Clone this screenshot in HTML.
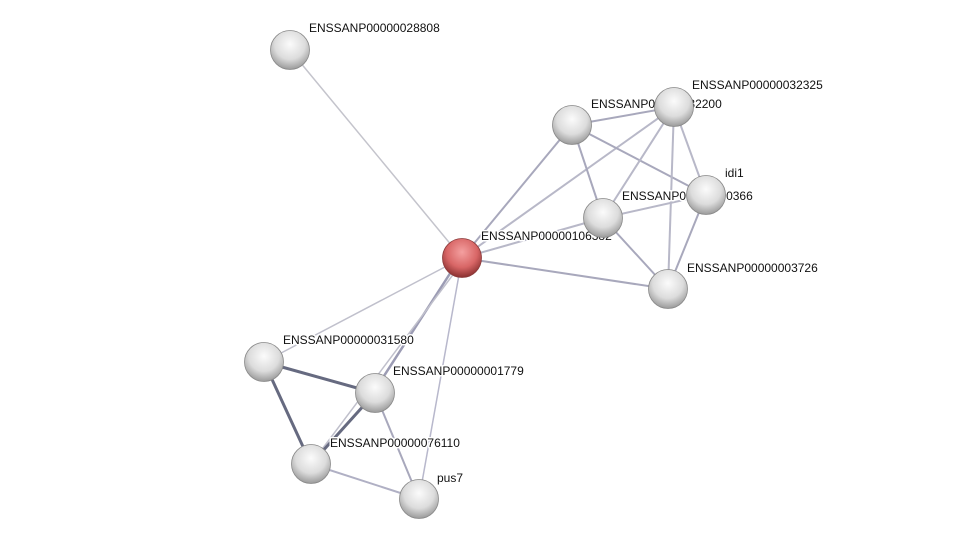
<!DOCTYPE html>
<html><head><style>body{margin:0;background:#fff}svg{display:block}</style></head><body>
<svg width="975" height="545" viewBox="0 0 975 545" xmlns="http://www.w3.org/2000/svg">
<defs>
<radialGradient id="g" cx="50%" cy="35%" r="65%">
<stop offset="0" stop-color="#fbfbfb"/><stop offset="0.6" stop-color="#dcdcdc"/><stop offset="1" stop-color="#9a9a9a"/></radialGradient>
<radialGradient id="r" cx="50%" cy="35%" r="65%">
<stop offset="0" stop-color="#f4a0a0"/><stop offset="0.6" stop-color="#d86666"/><stop offset="1" stop-color="#8a3030"/></radialGradient>
</defs>
<g stroke="#b8b8c8" stroke-width="2" fill="none">
<line x1="462" y1="258" x2="290" y2="50" stroke="#c4c4cc" stroke-width="1.5"/>
<line x1="462" y1="258" x2="572" y2="125" stroke="#a8a8bc"/>
<line x1="462" y1="258" x2="674" y2="107"/>
<line x1="462" y1="258" x2="603" y2="218"/>
<line x1="462" y1="258" x2="668" y2="289" stroke="#a8a8bc"/>
<line x1="462" y1="258" x2="264" y2="362" stroke="#c0c0cc" stroke-width="1.5"/>
<line x1="460" y1="258" x2="373" y2="393" stroke="#9c9cb4" stroke-width="2.5"/>
<line x1="464" y1="260" x2="311" y2="464" stroke="#c0c0cc" stroke-width="1.5"/>
<line x1="462" y1="258" x2="419" y2="499" stroke="#b8b8cc" stroke-width="1.5"/>
<line x1="572" y1="125" x2="674" y2="107" stroke="#a8a8bc"/>
<line x1="572" y1="125" x2="603" y2="218" stroke="#a8a8bc"/>
<line x1="572" y1="125" x2="706" y2="195" stroke="#a8a8bc"/>
<line x1="674" y1="107" x2="603" y2="218"/>
<line x1="674" y1="107" x2="706" y2="195"/>
<line x1="674" y1="107" x2="668" y2="289"/>
<line x1="603" y1="218" x2="706" y2="195"/>
<line x1="603" y1="218" x2="668" y2="289" stroke="#a8a8bc"/>
<line x1="706" y1="195" x2="668" y2="289" stroke="#a8a8bc"/>
<line x1="264" y1="362" x2="375" y2="393" stroke="#666a80" stroke-width="3"/>
<line x1="264" y1="362" x2="311" y2="464" stroke="#666a80" stroke-width="3"/>
<line x1="375" y1="393" x2="311" y2="464" stroke="#666a80" stroke-width="3"/>
<line x1="375" y1="393" x2="419" y2="499" stroke="#a8a8bc"/>
<line x1="311" y1="464" x2="419" y2="499" stroke="#b0b0c4"/>
</g>
<g font-family="Liberation Sans, sans-serif" font-size="12" fill="#111" stroke="#fff" stroke-width="3" paint-order="stroke" stroke-linejoin="round">
<text x="309" y="32">ENSSANP00000028808</text>
<text x="692" y="89">ENSSANP00000032325</text>
<text x="591" y="108">ENSSANP00000032200</text>
<text x="725" y="177">idi1</text>
<text x="622" y="200">ENSSANP00000000366</text>
<text x="481" y="240">ENSSANP00000106382</text>
<text x="687" y="272">ENSSANP00000003726</text>
<text x="283" y="344">ENSSANP00000031580</text>
<text x="393" y="375">ENSSANP00000001779</text>
<text x="330" y="447">ENSSANP00000076110</text>
<text x="437" y="482">pus7</text>
</g>
<g stroke="#888" stroke-width="0.8">
<circle cx="290" cy="50" r="19.5" fill="url(#g)"/>
<circle cx="572" cy="125" r="19.5" fill="url(#g)"/>
<circle cx="674" cy="107" r="19.5" fill="url(#g)"/>
<circle cx="706" cy="195" r="19.5" fill="url(#g)"/>
<circle cx="603" cy="218" r="19.5" fill="url(#g)"/>
<circle cx="668" cy="289" r="19.5" fill="url(#g)"/>
<circle cx="264" cy="362" r="19.5" fill="url(#g)"/>
<circle cx="375" cy="393" r="19.5" fill="url(#g)"/>
<circle cx="311" cy="464" r="19.5" fill="url(#g)"/>
<circle cx="419" cy="499" r="19.5" fill="url(#g)"/>
<circle cx="462" cy="258" r="19.5" fill="url(#r)" stroke="#8a3a3a"/>
</g>
</svg>
</body></html>
